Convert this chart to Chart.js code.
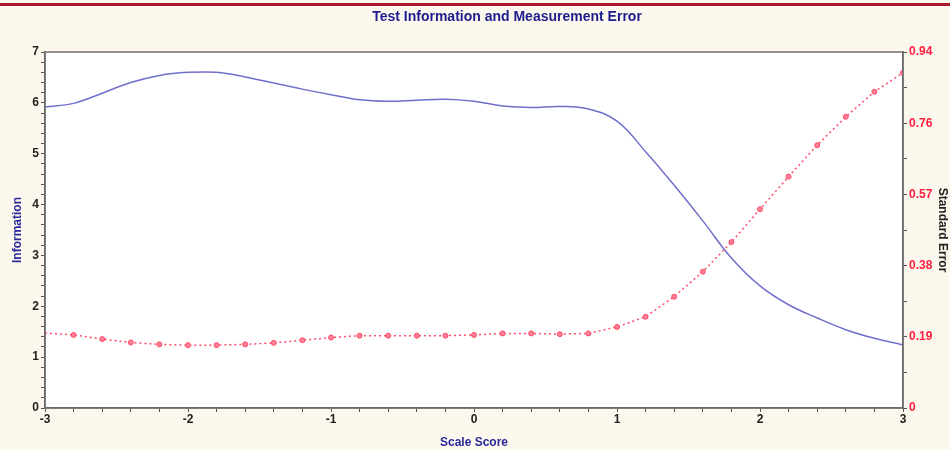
<!DOCTYPE html>
<html>
<head>
<meta charset="utf-8">
<script src="https://cdn.jsdelivr.net/npm/chart.js@4"></script>
<style>
  html, body { margin: 0; padding: 0; background: #fcf8ee; }
  #wrap { width: 950px; height: 450px; position: relative; }
</style>
</head>
<body>
<div id="wrap"><canvas id="grafico"></canvas></div>
<script>
// --- DATOS ---
const puntuaciones = [-3.0, -2.8, -2.6, -2.4, -2.2, -2.0, -1.8, -1.6, -1.4, -1.2, -1.0, -0.8, -0.6, -0.4, -0.2,
    0.0, 0.2, 0.4, 0.6, 0.8, 1.0, 1.2, 1.4, 1.6, 1.8, 2.0, 2.2, 2.4, 2.6, 2.8, 3.0];

const informacion = [5.92, 5.99, 6.19, 6.40, 6.54, 6.60, 6.60, 6.51, 6.39, 6.27, 6.16, 6.06, 6.03, 6.05, 6.07,
    6.03, 5.94, 5.91, 5.93, 5.88, 5.64, 5.04, 4.38, 3.68, 2.95, 2.40, 2.03, 1.77, 1.54, 1.37, 1.24];

const errorEstandar = [0.198, 0.193, 0.182, 0.173, 0.168, 0.166, 0.166, 0.168, 0.172, 0.179, 0.186, 0.191, 0.191, 0.191, 0.191,
    0.193, 0.197, 0.197, 0.195, 0.197, 0.214, 0.241, 0.294, 0.360, 0.438, 0.525, 0.611, 0.694, 0.769, 0.835, 0.885];

const etiquetasSE = ['0', '0.19', '0.38', '0.57', '0.76', '0.94'];
const titulo = 'Test Information and Measurement Error';

const fuente = "'Liberation Sans Narrow', 'Arial Narrow', 'Liberation Sans', Arial, sans-serif";

// Fondo, línea roja superior, marco y título
const decoracion = {
    id: 'decoracion',
    beforeDraw(chart) {
        const { ctx, chartArea: a } = chart;
        ctx.save();
        ctx.fillStyle = '#fcf8ee';
        ctx.fillRect(0, 0, chart.width, chart.height);
        ctx.fillStyle = '#a8182a';
        ctx.fillRect(0, 3, chart.width, 3);
        ctx.fillStyle = '#ffffff';
        ctx.fillRect(a.left, a.top, a.right - a.left, a.bottom - a.top);
        ctx.fillStyle = '#1c1c8c';
        ctx.font = 'bold 14px ' + fuente;
        ctx.textAlign = 'center';
        ctx.textBaseline = 'middle';
        ctx.fillText(titulo, 507, 17);
        ctx.restore();
    },
    afterDraw(chart) {
        const { ctx, chartArea: a } = chart;
        ctx.save();
        ctx.strokeStyle = '#707070';
        ctx.lineWidth = 1.5;
        ctx.strokeRect(a.left, a.top, a.right - a.left, a.bottom - a.top);
        ctx.restore();
    }
};

const ctx = document.getElementById('grafico').getContext('2d');
const grafico = new Chart(ctx, {
    type: 'line',
    data: {
        datasets: [{
            label: 'Information',
            data: puntuaciones.map((x, i) => ({ x: x, y: informacion[i] })),
            borderColor: '#7070cc',
            borderWidth: 1.5,
            pointRadius: 0,
            tension: 0.4,
            yAxisID: 'y'
        }, {
            label: 'Standard Error',
            data: puntuaciones.map((x, i) => ({ x: x, y: errorEstandar[i] })),
            borderColor: '#ff4d6a',
            borderWidth: 1.5,
            borderDash: [2, 3],
            pointRadius: ctx => ctx.dataIndex === 0 ? 0 : 2.5,
            pointBackgroundColor: '#ff8096',
            pointBorderColor: '#ff4d6a',
            pointBorderWidth: 1,
            tension: 0,
            yAxisID: 'y2'
        }]
    },
    options: {
        responsive: true,
        maintainAspectRatio: false,
        animation: false,
        layout: { padding: { top: 52, left: 0, right: 0, bottom: 0 } },
        plugins: {
            legend: { display: false },
            tooltip: { enabled: false }
        },
        scales: {
            x: {
                type: 'linear',
                min: -3,
                max: 3,
                afterFit: s => { s.height = 42; },
                border: { color: '#555555', width: 1.5 },
                grid: { drawOnChartArea: false, tickLength: 4, color: '#555555' },
                ticks: {
                    stepSize: 0.2,
                    autoSkip: false,
                    maxRotation: 0,
                    padding: 0,
                    color: '#222222',
                    font: { family: fuente, size: 12, weight: 'bold' },
                    callback: v => Math.abs(v - Math.round(v)) < 1e-6 ? String(Math.round(v)) : ''
                },
                title: {
                    display: true,
                    text: 'Scale Score',
                    color: '#2a2a9a',
                    padding: { top: 1, bottom: 0 },
                    font: { family: fuente, size: 12, weight: 'bold' }
                }
            },
            y: {
                position: 'left',
                min: 0,
                max: 7,
                afterFit: s => { s.width = 45; },
                border: { color: '#555555', width: 1.5 },
                grid: { drawOnChartArea: false, tickLength: 4, color: '#555555' },
                ticks: {
                    stepSize: 0.2,
                    autoSkip: false,
                    padding: 2,
                    color: '#222222',
                    font: { family: fuente, size: 12, weight: 'bold' },
                    callback: v => Math.abs(v - Math.round(v)) < 1e-6 ? String(Math.round(v)) : ''
                },
                title: {
                    display: true,
                    text: 'Information',
                    color: '#2a2a9a',
                    padding: { top: 10, bottom: 0 },
                    font: { family: fuente, size: 12, weight: 'bold' }
                }
            },
            y2: {
                position: 'right',
                min: 0,
                max: 0.94,
                afterFit: s => { s.width = 47; },
                afterBuildTicks: s => {
                    s.ticks = etiquetasSE.map((t, i) => ({ value: 0.94 * i / 5 }))
                        .concat([0, 1, 2, 3, 4].map(i => ({ value: 0.94 * (i + 0.5) / 5 })));
                },
                border: { color: '#555555', width: 1.5 },
                grid: { drawOnChartArea: false, tickLength: 4, color: '#555555' },
                ticks: {
                    autoSkip: false,
                    padding: 2,
                    color: '#ff2040',
                    font: { family: fuente, size: 12, weight: 'bold' },
                    callback: (v, i) => i < etiquetasSE.length ? etiquetasSE[i] : ''
                },
                title: {
                    display: true,
                    text: 'Standard Error',
                    color: '#222222',
                    padding: { top: 0, bottom: 2 },
                    font: { family: fuente, size: 12, weight: 'bold' }
                }
            }
        }
    },
    plugins: [decoracion]
});
</script>
</body>
</html>
